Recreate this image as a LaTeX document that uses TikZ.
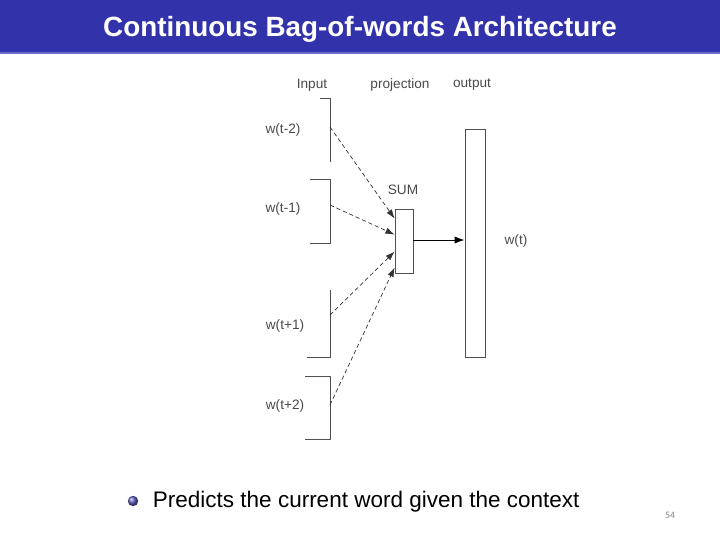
\documentclass[tikz,border=0pt]{standalone}
\usepackage{fontspec}
\setmainfont{Liberation Sans}
\newfontfamily\pagefont{Carlito}
\usepackage{xcolor}
\definecolor{barblue}{HTML}{3232AA}
\definecolor{barline}{HTML}{6A6AC8}
\definecolor{inkgrey}{HTML}{4A4A4A}
\definecolor{linegrey}{HTML}{505050}
\usetikzlibrary{arrows.meta,positioning,calc}

\begin{document}
\begin{tikzpicture}[
  x=0.025cm, y=-0.025cm,
  font=\fontsize{9.7pt}{11pt}\selectfont,
  lbl/.style={text=inkgrey, inner sep=0pt},
  layer/.style={draw=linegrey, line width=0.6pt, inner sep=0pt},
  feed/.style={draw=black!80, densely dashed, line width=0.5pt,
    -{Latex[length=6.5pt,width=4.5pt]}},
  bracket/.style={draw=linegrey, line width=0.6pt}
]
  \useasboundingbox (0,0) rectangle (720,540);
  % title bar
  \fill[barblue] (0,0) rectangle (720,52);
  \fill[barline] (0,52) rectangle (720,54);
  \node[text=white, font=\fontsize{19.8pt}{22pt}\selectfont\bfseries] (title) at (360,29)
    {Continuous Bag-of-words Architecture};

  % column heads
  \node[lbl] (hin)   at (312,85) {Input};
  \node[lbl] (hproj) at (400,85) {projection};
  \node[lbl] (hout)  at (472,85) {output};

  % input brackets
  \draw[bracket] (320,98) -- (330,98) -- (330,162);
  \draw[bracket] (310,179) -- (330,179) -- (330,243) -- (310,243);
  \draw[bracket] (330,290) -- (330,357) -- (307,357);
  \draw[bracket] (305,376) -- (330,376) -- (330,439) -- (305,439);
  \coordinate (i1) at (330,127);
  \coordinate (i2) at (330,205);
  \coordinate (i3) at (330,315);
  \coordinate (i4) at (330,405);

  \node[lbl] (w1) at (283,130) {w(t-2)};
  \node[lbl] (w2) at (283,209) {w(t-1)};
  \node[lbl] (w3) at (285,326) {w(t+1)};
  \node[lbl] (w4) at (285,406) {w(t+2)};

  % projection and output layers
  \node[layer, minimum width=0.45cm, minimum height=1.6cm] (sum) at (404,241) {};
  \node[lbl] (sumlbl) at (403,190) {SUM};
  \node[layer, minimum width=0.5cm, minimum height=5.7cm] (out) at (475,243) {};
  \node[lbl] (wt) at (516,241) {w(t)};

  % connections
  \draw[feed] (i1) -- ($(sum.north west)+(0,10)$);
  \draw[feed] (i2) -- ($(sum.north west)+(0,26)$);
  \draw[feed] (i3) -- ($(sum.north west)+(0,43)$);
  \draw[feed] (i4) -- ($(sum.north west)+(0,59)$);
  \draw[line width=0.7pt, -{Latex[length=7pt,width=5pt]}] (sum.east |- 0,240) -- (out.west |- 0,240);

  % bullet line
  \node[circle, minimum size=0.26cm, inner sep=0pt, shading=ball,
    ball color=barblue!80!white] (dot) at (133,501) {};
  \node[anchor=west, font=\fontsize{16pt}{18pt}\selectfont] (claim) at (148,502)
    {Predicts the current word given the context};
  \node[text=gray, font=\pagefont\fontsize{7pt}{8pt}\selectfont] (page) at (670,515) {54};
\end{tikzpicture}
\end{document}
